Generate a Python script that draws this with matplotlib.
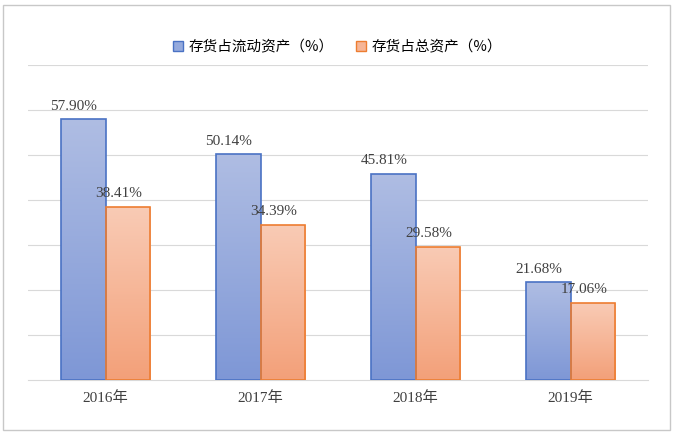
import matplotlib
matplotlib.use("Agg")
import matplotlib.pyplot as plt
import numpy as np
from matplotlib.colors import LinearSegmentedColormap
from matplotlib.patches import Rectangle, Patch

categories = ["2016年", "2017年", "2018年", "2019年"]
current_ratio = [57.90, 50.14, 45.81, 21.68]
total_ratio = [38.41, 34.39, 29.58, 17.06]
series_names = ["存货占流动资产（%）", "存货占总资产（%）"]

plt.rcParams["font.family"] = ["Liberation Serif", "Noto Sans CJK SC"]
W, H = 675, 433
fig = plt.figure(figsize=(W/100, H/100), dpi=100)
fig.patches.append(Rectangle((3/W, 3/H), 1-8/W, 1-8/H, transform=fig.transFigure,
                             fill=False, edgecolor="#c8c8c8", lw=1))
ax = fig.add_axes([28/W, 1-380/H, 620/W, 315/H])
ax.set_xlim(-0.5, 3.5)
ax.set_ylim(0, 70)
for v in range(10, 71, 10):
    ax.axhline(v, color="#d9d9d9", lw=0.8, zorder=0)
for s in ["top", "right", "left"]:
    ax.spines[s].set_visible(False)
ax.spines["bottom"].set_color("#d9d9d9")
ax.set_yticks([])
ax.set_xticks(range(4))
ax.set_xticklabels(categories, fontsize=11, color="#404040")
ax.tick_params(axis="x", length=0, pad=8)

cm_blue = LinearSegmentedColormap.from_list("b", ["#7e97d6", "#afbde3"])
cm_or = LinearSegmentedColormap.from_list("o", ["#f3a079", "#f9cbb5"])
bw = 0.29
grad = np.linspace(0, 1, 256).reshape(-1, 1)

def gbar(x0, h, cmap, edge):
    im = ax.imshow(grad, extent=[x0, x0+bw, 0, h], origin="lower", cmap=cmap,
                   aspect="auto", zorder=2)
    r = Rectangle((x0, 0), bw, h, fill=False, edgecolor=edge, lw=1.2, zorder=3)
    ax.add_patch(r)
    im.set_clip_path(r)

for i in range(4):
    gbar(i - bw, current_ratio[i], cm_blue, "#4a72c4")
    gbar(i, total_ratio[i], cm_or, "#ed7d31")
    ax.text(i - bw/2 - 0.06, current_ratio[i] + 1.5, f"{current_ratio[i]:.2f}%",
            ha="center", va="bottom", fontsize=11, color="#404040")
    ax.text(i + bw/2 - 0.06, total_ratio[i] + 1.5, f"{total_ratio[i]:.2f}%",
            ha="center", va="bottom", fontsize=11, color="#404040")
ax.set_xlim(-0.5, 3.5)
ax.set_ylim(0, 70)

handles = [Patch(facecolor="#95aadd", edgecolor="#4a72c4"),
           Patch(facecolor="#f6b596", edgecolor="#ed7d31")]
fig.legend(handles, series_names, loc="center", bbox_to_anchor=(0.5, 1-47/H),
           ncol=2, frameon=False, fontsize=10.5, handlelength=0.7, handleheight=0.7,
           columnspacing=1.5, handletextpad=0.4,
           prop={"family": ["Noto Sans CJK SC"], "size": 10.5})
fig.savefig("out.png", dpi=100)
